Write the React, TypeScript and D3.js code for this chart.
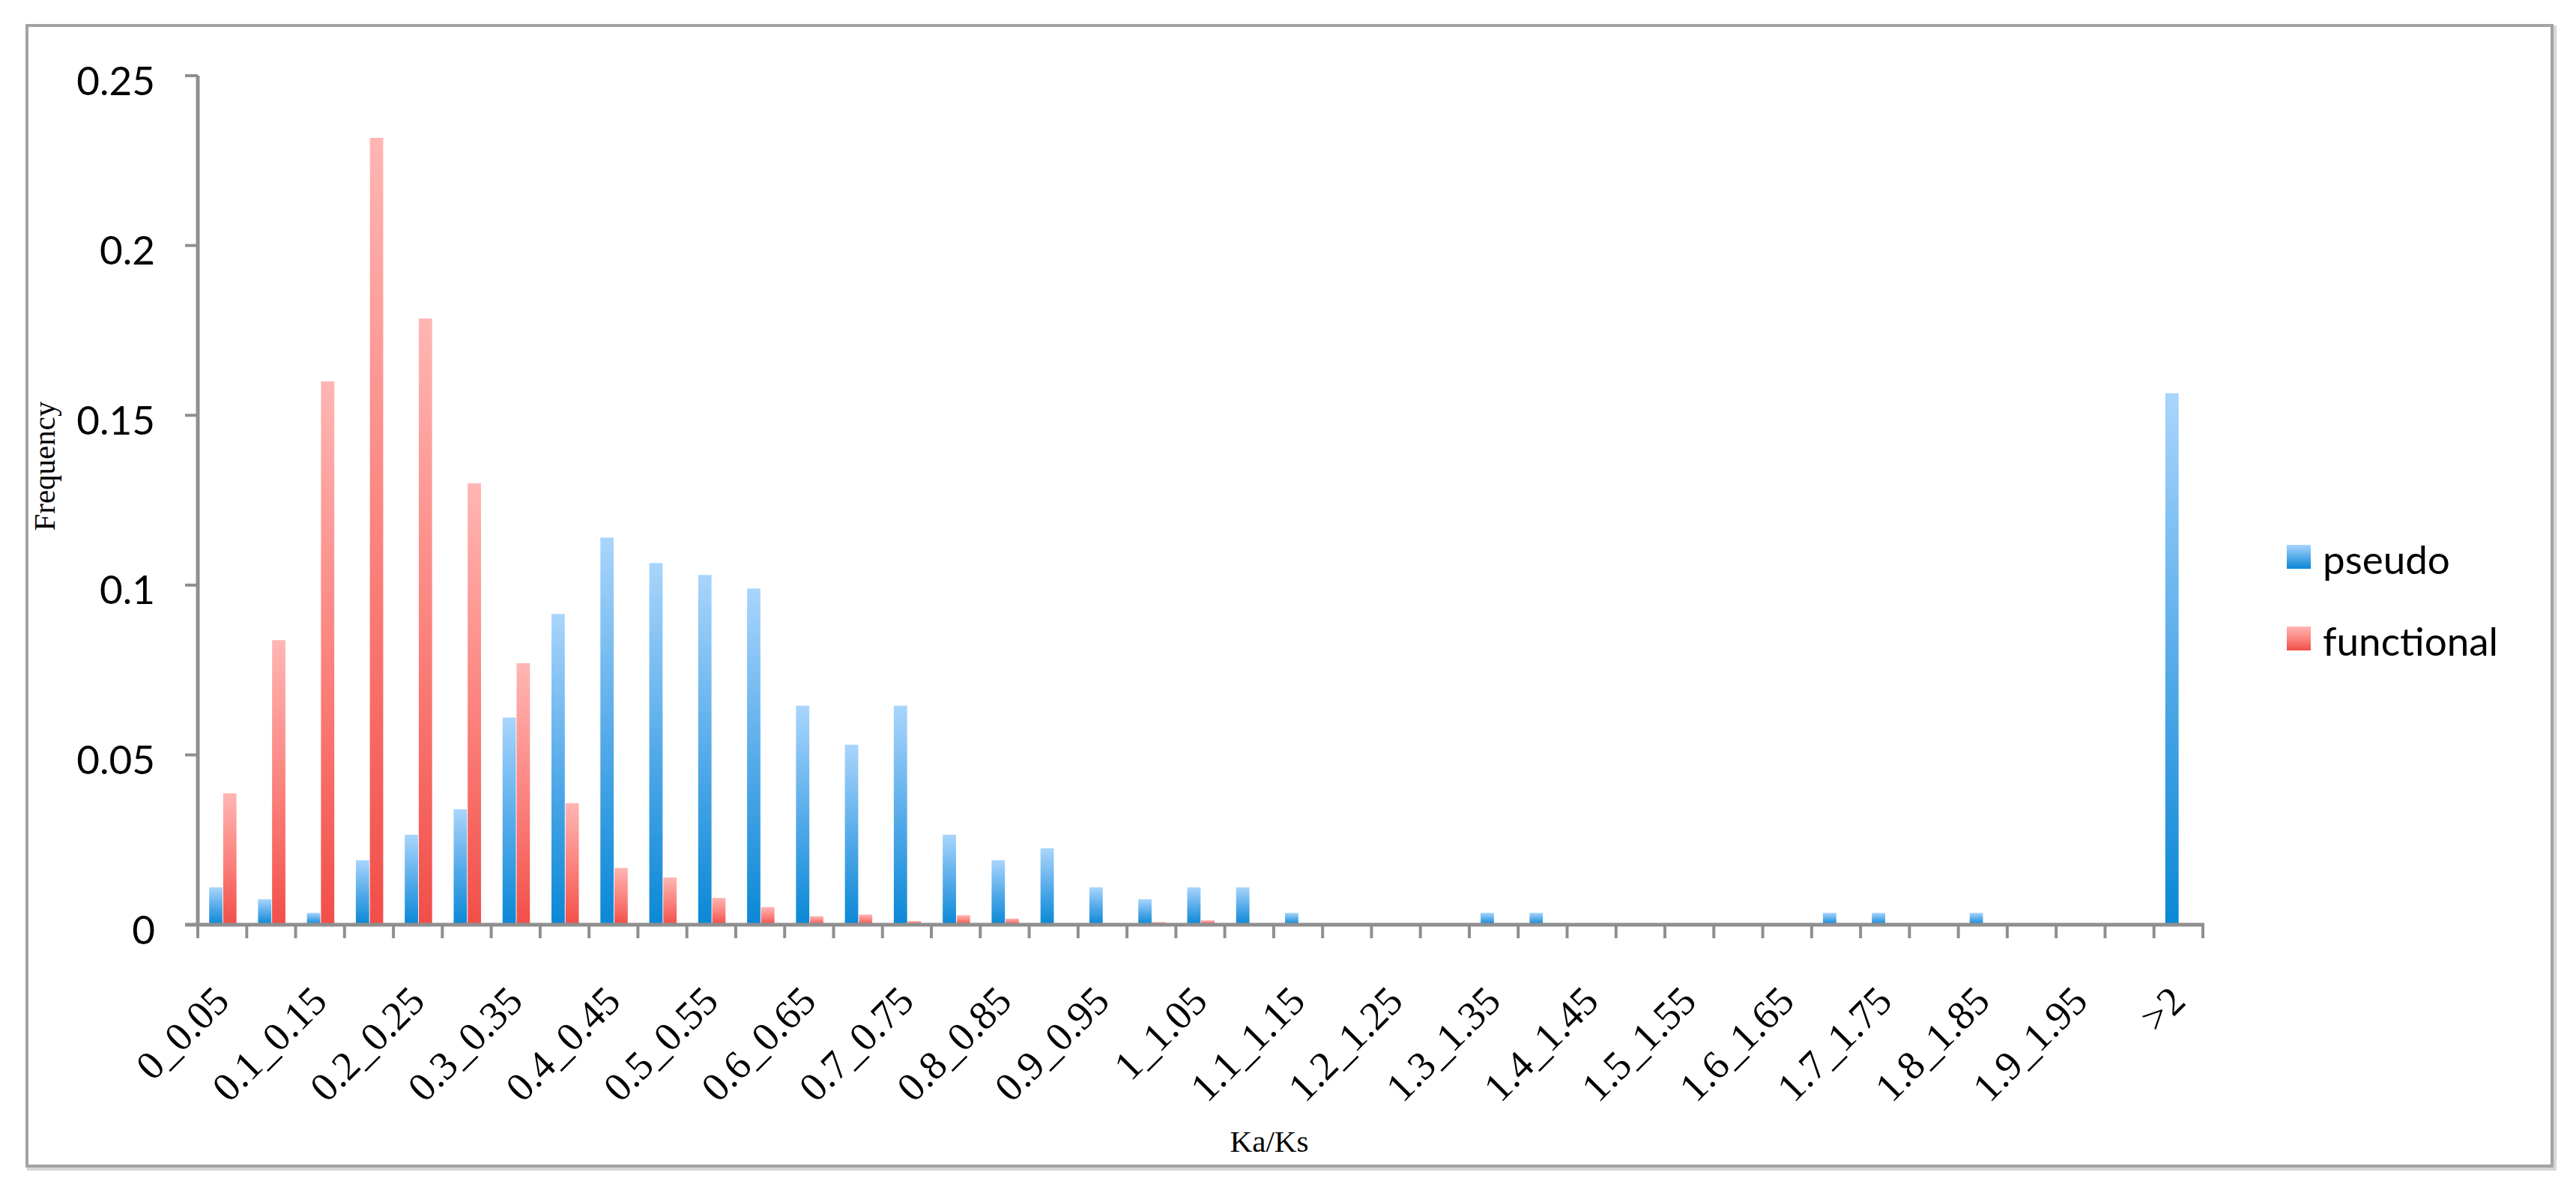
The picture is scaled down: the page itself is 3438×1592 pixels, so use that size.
import React from "react";
import * as d3 from "d3";

// Ka/Ks bins (41 categories, every other one labelled on the axis)
const categories = [
  "0_0.05", "0.05_0.1", "0.1_0.15", "0.15_0.2", "0.2_0.25", "0.25_0.3",
  "0.3_0.35", "0.35_0.4", "0.4_0.45", "0.45_0.5", "0.5_0.55", "0.55_0.6",
  "0.6_0.65", "0.65_0.7", "0.7_0.75", "0.75_0.8", "0.8_0.85", "0.85_0.9",
  "0.9_0.95", "0.95_1", "1_1.05", "1.05_1.1", "1.1_1.15", "1.15_1.2",
  "1.2_1.25", "1.25_1.3", "1.3_1.35", "1.35_1.4", "1.4_1.45", "1.45_1.5",
  "1.5_1.55", "1.55_1.6", "1.6_1.65", "1.65_1.7", "1.7_1.75", "1.75_1.8",
  "1.8_1.85", "1.85_1.9", "1.9_1.95", "1.95_2", ">2",
];

const pseudo = [
  0.011, 0.0075, 0.0035, 0.019, 0.0265, 0.034, 0.061, 0.0915, 0.114, 0.1065,
  0.103, 0.099, 0.0645, 0.053, 0.0645, 0.0265, 0.019, 0.0225, 0.011, 0.0075,
  0.011, 0.011, 0.0035, 0, 0, 0, 0.0035, 0.0035, 0, 0,
  0, 0, 0, 0.0035, 0.0035, 0, 0.0035, 0, 0, 0,
  0.1565,
];

const functional = [
  0.0387, 0.0838, 0.16, 0.2317, 0.1785, 0.13, 0.077, 0.0358, 0.0167, 0.0139,
  0.0079, 0.0052, 0.0025, 0.003, 0.0011, 0.0028, 0.0018, 0, 0, 0.0008,
  0.0013, 0, 0, 0, 0, 0, 0, 0, 0, 0,
  0, 0, 0, 0, 0, 0, 0, 0, 0, 0,
  0,
];

const yTicks = [0, 0.05, 0.1, 0.15, 0.2, 0.25];
const yTickLabels = ["0", "0.05", "0.1", "0.15", "0.2", "0.25"];

const seriesNames = ["pseudo", "functional"];

export default function App() {
  const width = 3438;
  const height = 1592;
  const left = 264;
  const right = 2940;
  const top = 101;
  const bottom = 1234;

  const x = d3.scaleBand().domain(categories).range([left, right]);
  const inner = d3
    .scaleBand()
    .domain(seriesNames)
    .range([-17.5, 19])
    .paddingInner(0.05);
  const y = d3.scaleLinear().domain([0, 0.25]).range([bottom, top]);

  const bw = x.bandwidth();
  const gridColor = "#8f8f8f";
  const sansFont = "Lato, 'Open Sans', sans-serif";
  const serifFont = "'Liberation Serif', 'DejaVu Serif', serif";

  const series = [
    { name: "pseudo", values: pseudo, fill: "url(#blueGrad)" },
    { name: "functional", values: functional, fill: "url(#redGrad)" },
  ];

  const boundaries = d3.range(categories.length + 1).map((i) => left + i * bw);

  return (
    <svg
      width={width}
      height={height}
      style={{ position: "absolute", left: 0, top: 0, background: "#fff" }}
    >
      <defs>
        <linearGradient id="blueGrad" x1="0" y1="0" x2="0" y2="1">
          <stop offset="0%" stopColor="#a9d5fc" />
          <stop offset="55%" stopColor="#4fa8e8" />
          <stop offset="100%" stopColor="#0a88d6" />
        </linearGradient>
        <linearGradient id="redGrad" x1="0" y1="0" x2="0" y2="1">
          <stop offset="0%" stopColor="#ffb6b3" />
          <stop offset="55%" stopColor="#fb7f7a" />
          <stop offset="100%" stopColor="#f24e48" />
        </linearGradient>
      </defs>

      {/* outer frame */}
      <rect x={38} y={36} width={3372} height={1524} fill="none" stroke="#d6d6d6" strokeWidth={4} />
      <rect x={36} y={34} width={3370} height={1522} fill="#fff" stroke="#a3a3a3" strokeWidth={4} />

      {/* bars */}
      {series.map((s) => (
        <g key={s.name}>
          {s.values.map((v, i) =>
            v > 0 ? (
              <rect
                key={i}
                x={x(categories[i])! + bw / 2 + inner(s.name)!}
                y={y(v)}
                width={inner.bandwidth()}
                height={bottom - y(v)}
                fill={s.fill}
              />
            ) : null
          )}
        </g>
      ))}

      {/* y axis */}
      <line x1={left} x2={left} y1={top} y2={bottom} stroke={gridColor} strokeWidth={5} />
      {yTicks.map((t, i) => (
        <g key={t}>
          <line x1={left - 17} x2={left} y1={y(t)} y2={y(t)} stroke={gridColor} strokeWidth={4} />
          <text
            x={207}
            y={y(t) + 5}
            textAnchor="end"
            dominantBaseline="central"
            fontFamily={sansFont}
            fontSize={53}
            fill="#000"
          >
            {yTickLabels[i]}
          </text>
        </g>
      ))}

      {/* x axis */}
      <line x1={left - 17} x2={right + 2} y1={bottom} y2={bottom} stroke={gridColor} strokeWidth={5} />
      {boundaries.map((bx, i) => (
        <line key={i} x1={bx} x2={bx} y1={bottom} y2={bottom + 18} stroke={gridColor} strokeWidth={4} />
      ))}
      {categories.map((c, i) =>
        i % 2 === 0 ? (
          <text
            key={c}
            transform={`translate(${x(c)! + bw / 2 + 12},${1339}) rotate(-45)`}
            textAnchor="end"
            fontFamily={serifFont}
            fontSize={54}
            fill="#000"
          >
            {c}
          </text>
        ) : null
      )}

      {/* axis titles */}
      <text x={1694} y={1537} textAnchor="middle" fontFamily={serifFont} fontSize={41} fill="#000">
        Ka/Ks
      </text>
      <text
        transform="translate(73,622) rotate(-90)"
        textAnchor="middle"
        fontFamily={serifFont}
        fontSize={41}
        fill="#000"
      >
        Frequency
      </text>

      {/* legend */}
      {series.map((s, i) => (
        <g key={s.name} transform={`translate(3052,${727 + i * 109})`}>
          <rect x={0} y={0} width={32} height={32} fill={s.fill} />
          <text
            x={48}
            y={18}
            dominantBaseline="central"
            fontFamily={sansFont}
            fontSize={53}
            fill="#000"
          >
            {s.name}
          </text>
        </g>
      ))}
    </svg>
  );
}
